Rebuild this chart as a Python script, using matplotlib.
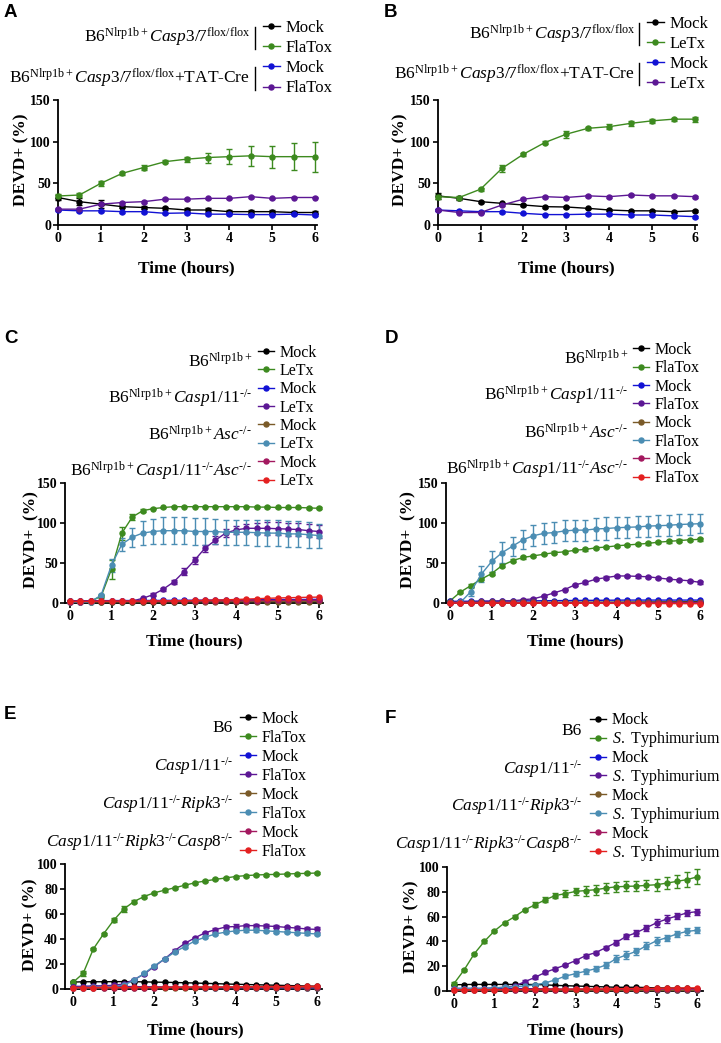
import matplotlib
matplotlib.use('Agg')
import matplotlib.pyplot as plt
from matplotlib.lines import Line2D

plt.rcParams['font.family'] = ['Liberation Serif', 'DejaVu Serif']
plt.rcParams['mathtext.fontset'] = 'custom'
plt.rcParams['mathtext.rm'] = 'Liberation Serif'
plt.rcParams['mathtext.it'] = 'Liberation Serif:italic'
plt.rcParams['mathtext.bf'] = 'Liberation Serif:bold'

# ---------------- data ----------------
t_half = [0, 0.5, 1, 1.5, 2, 2.5, 3, 3.5, 4, 4.5, 5, 5.5, 6]
t_quarter = [0, 0.25, 0.5, 0.75, 1, 1.25, 1.5, 1.75, 2, 2.25, 2.5, 2.75, 3,
             3.25, 3.5, 3.75, 4, 4.25, 4.5, 4.75, 5, 5.25, 5.5, 5.75, 6]

# Panel A
A_mock1 = [33, 28, 25, 22, 21, 20, 18, 18, 16, 16, 16, 15, 15]
A_mock1_err = [3, 4, 5, 2, 2, 2, 2, 2, 1.5, 1.5, 1.5, 1.5, 1.5]
A_tox1 = [34.8, 36, 50, 62, 69, 76, 79, 81, 82, 83, 82, 82, 82]
A_tox1_err = [2, 2, 3, 2, 3, 2, 3, 6, 9, 12, 13, 16, 18]
A_mock2 = [18, 17, 17, 16, 16, 14, 14.5, 13, 13, 12.5, 12.5, 13, 12]
A_mock2_err = [1, 1, 1, 1, 1, 1, 1, 1, 1, 1, 1, 1, 1]
A_tox2 = [19, 19, 25, 27, 28, 31, 31, 32, 32, 34, 32, 33, 33]
A_tox2_err = [1, 1, 1, 1, 1, 1, 1, 1, 1, 1, 1, 1, 1]

# Panel B
B_mock1 = [35, 32, 28, 26, 24, 22, 21.6, 20, 18, 17, 17, 16, 17]
B_mock1_err = [4, 2, 1, 1, 1, 1, 1, 1, 1, 1, 1, 1, 1]
B_tox1 = [34, 33, 43, 68, 85, 99, 109, 116, 118, 122, 125, 127, 127]
B_tox1_err = [3, 2, 2, 4, 2, 2, 4, 2, 3, 3, 2, 2, 3]
B_mock2 = [18, 17, 16, 16, 14, 12.5, 12.5, 13, 13, 12, 12, 11, 10]
B_mock2_err = [1, 1, 1, 1, 1, 1, 1, 1, 1, 1, 1, 1, 1]
B_tox2 = [18, 15, 15, 24, 31, 34, 33, 35, 34, 36, 35, 35, 34]
B_tox2_err = [1, 1, 1, 1, 1, 1, 1, 1, 1, 1, 1, 1, 1]

# Panel C (LeTx)
C_wt_mock = [1.0, 1.0, 1.0, 1.2, 1.2, 1.3, 1.3, 1.4, 1.4, 1.5, 1.5, 1.5, 1.6,
             1.6, 1.7, 1.7, 1.8, 1.8, 1.9, 1.9, 2.0, 2.0, 2.0, 2.1, 2.1]
C_wt_tox = [2, 2, 2, 8, 42, 87, 107, 115, 117.5, 119, 120, 120, 120,
            120, 120, 120, 120, 120, 119.5, 119.5, 119, 119, 119, 118.5, 118]
C_wt_tox_err = [0.5, 0.5, 0.5, 2, 12, 8, 4, 2, 1, 1, 1, 1, 1,
                1, 1, 1, 1, 1, 1, 1, 1, 1, 1, 1, 1]
C_c1_mock = [2.5, 2.5, 2.5, 2.6, 2.6, 2.7, 2.7, 2.8, 2.8, 2.9, 3.0, 3.0, 3.1,
             3.2, 3.3, 3.4, 3.5, 3.6, 3.7, 3.8, 3.9, 4.0, 4.0, 4.1, 4.2]
C_c1_tox = [2, 2, 2, 2, 2, 2, 2, 5.5, 10, 17, 26, 39, 53,
            68, 78, 87, 91, 93, 93, 93, 92.5, 92, 91.5, 90, 89]
C_c1_tox_err = [0.5, 0.5, 0.5, 0.5, 0.5, 0.5, 0.5, 1, 2, 2, 3, 4, 4,
                4, 5, 5, 5, 6, 7, 8, 8, 8, 8, 8, 8]
C_asc_mock = [0.8, 0.8, 0.8, 0.9, 0.9, 0.9, 1.0, 1.0, 1.0, 1.1, 1.1, 1.1, 1.2,
              1.2, 1.2, 1.3, 1.3, 1.3, 1.4, 1.4, 1.4, 1.5, 1.5, 1.5, 1.6]
C_asc_tox = [1, 1, 1, 9.5, 47, 73, 82, 87, 89, 90, 90, 90, 89,
             89, 89, 88, 88, 88, 87.5, 87, 87, 86, 86, 85, 84]
C_asc_tox_err = [0.5, 0.5, 0.5, 2, 8, 8, 12, 15, 16, 17, 17, 17, 17,
                 17, 16, 16, 16, 16, 16, 16, 16, 16, 16, 16, 15]
C_dko_mock = [1.5, 1.5, 1.6, 1.6, 1.7, 1.7, 1.8, 1.8, 1.9, 1.9, 2.0, 2.0, 2.1,
              2.2, 2.3, 2.4, 2.5, 2.6, 2.7, 2.8, 2.9, 3.0, 3.1, 3.2, 3.3]
C_dko_tox = [1.8, 1.8, 1.8, 1.9, 1.9, 2.0, 2.0, 2.1, 2.2, 2.3, 2.4, 2.6, 2.8,
             3.0, 3.3, 3.6, 4.0, 4.5, 5.0, 5.5, 5.9, 6.2, 6.5, 6.8, 7.0]

# Panel D (FlaTox)
D_wt_mock = [0.8, 0.8, 0.8, 0.8, 0.9, 0.9, 0.9, 0.9, 1.0, 1.0, 1.0, 1.0, 1.1,
             1.1, 1.1, 1.2, 1.2, 1.3, 1.4, 1.5, 1.6, 1.7, 1.8, 1.9, 2.0]
D_wt_tox = [3, 14, 22, 30, 37, 47, 53, 57, 59, 61, 63, 64, 66,
            67, 69, 70, 71.5, 72.5, 73.5, 74.5, 76, 77, 78, 79, 79.5]
D_wt_tox_err = [1, 1.5, 1.5, 1.5, 1.5, 1.5, 1.5, 1.5, 1.5, 1.5, 1.5, 1.5, 1.5,
                1.5, 1.5, 1.5, 1.5, 1.5, 1.5, 1.5, 1.5, 1.5, 1.5, 1.5, 1.5]
D_c1_mock = [2.5, 2.5, 2.6, 2.6, 2.7, 2.8, 2.9, 3.0, 3.1, 3.2, 3.3, 3.4, 3.5,
             3.6, 3.7, 3.8, 3.9, 4.0, 4.0, 4.0, 4.0, 4.0, 4.0, 4.0, 4.0]
D_c1_tox = [2, 2, 2, 2.5, 2.5, 3, 3, 4.5, 5.5, 9, 13, 17, 23,
            26, 30, 32, 34, 34, 33.5, 33, 31.5, 30, 29, 28, 26]
D_c1_tox_err = [0.5, 0.5, 0.5, 0.5, 0.5, 0.5, 0.5, 1, 1, 1, 1, 1, 1.5,
                1.5, 1.5, 1.5, 1.5, 1.5, 1.5, 1.5, 1.5, 1.5, 1.5, 1.5, 1.5]
D_asc_mock = [1.0, 1.0, 1.0, 1.0, 1.0, 1.1, 1.1, 1.1, 1.1, 1.2, 1.2, 1.2, 1.2,
              1.3, 1.3, 1.3, 1.3, 1.4, 1.4, 1.4, 1.4, 1.5, 1.5, 1.5, 1.5]
D_asc_tox = [0.5, 1, 14.5, 36, 52, 63, 71, 79, 84, 87, 88, 90, 91,
             91, 92.5, 93, 94, 94.5, 95, 96, 96.5, 97, 98, 98.5, 99]
D_asc_tox_err = [0.5, 0.5, 5, 10, 13, 13, 12, 12, 13, 13, 13, 13, 13,
                 13, 14, 14, 13, 13, 13, 13, 13, 13, 13, 13, 12]
D_dko_mock = [0.5, 0.5, 0.5, 0.5, 0.5, 0.5, 0.5, 0.5, 0.6, 0.6, 0.6, 0.6, 0.6,
              0.6, 0.7, 0.7, 0.7, 0.7, 0.7, 0.8, 0.8, 0.8, 0.8, 0.8, 0.8]
D_dko_tox = [0.3, 0.3, 0.3, 0.3, 0.3, 0.2, 0.2, 0.2, 0.2, 0.1, 0.1, 0.1, 0.0,
             0.0, 0.0, -0.1, -0.1, -0.2, -0.2, -0.3, -0.3, -0.4, -0.4, -0.5, -0.5]

# Panel E (FlaTox)
E_wt_mock = [5.5, 5.8, 5.8, 5.8, 5.9, 5.9, 5.8, 5.7, 5.5, 5.4, 5.2, 5.0, 4.8,
             4.5, 4.3, 4.0, 3.8, 3.6, 3.4, 3.2, 3.0, 2.8, 2.6, 2.4, 2.2]
E_wt_tox = [5.3, 12.5, 32, 44, 55, 64, 70, 74, 77, 79, 81, 83, 85,
            86.4, 87.7, 88.8, 90, 90.7, 91.2, 91.5, 91.7, 92, 92.3, 92.5, 92.8]
E_wt_tox_err = [1, 2, 1, 1, 1.5, 2.5, 1.5, 1, 1, 1, 1, 1, 1,
                0.8, 0.8, 0.8, 0.8, 0.8, 0.8, 0.8, 0.8, 0.8, 0.8, 0.8, 0.8]
E_c1_mock = [2.0, 2.0, 2.0, 2.1, 2.1, 2.0, 1.9, 1.8, 1.7, 1.6, 1.5, 1.4, 1.3,
             1.2, 1.1, 1.0, 1.0, 0.9, 0.9, 0.8, 0.8, 0.7, 0.7, 0.6, 0.6]
E_c1_tox = [2, 2, 2.5, 2.5, 3, 4, 7.5, 12, 18, 24, 30.7, 36.5, 41,
            45, 47.5, 49.6, 50, 50.7, 50.7, 50.4, 50, 49.3, 48.8, 48, 47.7]
E_c1_tox_err = [0.5, 0.5, 0.5, 0.5, 0.5, 0.5, 0.8, 0.8, 1, 1, 1, 1, 1,
                1, 1.5, 2, 2, 1.5, 1.5, 1.5, 1.5, 1.5, 1.5, 1.5, 2]
E_r3_mock = [0.8, 0.8, 0.8, 0.8, 0.8, 0.9, 0.9, 0.9, 0.9, 0.9, 1.0, 1.0, 1.0,
             1.0, 1.0, 1.0, 1.0, 1.0, 1.0, 1.0, 1.0, 1.0, 1.0, 1.0, 1.0]
E_r3_tox = [1, 1.2, 1.5, 1.8, 2, 3, 7, 12.5, 18.5, 24, 29.5, 34, 38.5,
            41.5, 44, 45.5, 46.5, 47, 47, 46.5, 46, 45.5, 45, 44.5, 44]
E_r3_tox_err = [0.5, 0.5, 0.5, 0.5, 0.5, 0.5, 0.8, 0.8, 1, 1, 1, 1, 1,
                1, 1, 1, 1, 1, 1, 1, 1, 1, 1, 1, 1]
E_c8_mock = [1.0, 1.0, 1.0, 1.1, 1.1, 1.1, 1.2, 1.2, 1.2, 1.3, 1.3, 1.3, 1.4,
             1.4, 1.4, 1.5, 1.5, 1.5, 1.6, 1.6, 1.6, 1.7, 1.7, 1.8, 1.8]
E_c8_tox = [1.2, 1.2, 1.2, 1.3, 1.3, 1.3, 1.4, 1.4, 1.4, 1.5, 1.5, 1.5, 1.6,
            1.6, 1.6, 1.7, 1.7, 1.8, 1.8, 1.9, 1.9, 2.0, 2.0, 2.1, 2.2]

# Panel F (S. Typhimurium)
F_wt_mock = [5, 5.2, 5.3, 5.3, 5.3, 5.3, 5.3, 5.3, 5.2, 5, 4.5, 4.3, 4,
             3.8, 3.5, 3.3, 3, 3, 3, 2.8, 2.5, 2.4, 2.3, 2.1, 2]
F_wt_tox = [6, 17, 30, 40, 48.5, 55, 60, 65.5, 69.5, 73.5, 77, 78.5, 80.3,
            81, 81.7, 83, 84, 84.4, 84.6, 85.2, 85.7, 87, 88.4, 89.8, 92]
F_wt_tox_err = [1, 1, 1, 1, 1, 1, 1, 1, 2, 2, 2, 3, 3,
                4, 4, 4, 4, 4, 4, 4, 5, 5, 5, 6, 6]
F_c1_mock = [2, 2, 2, 2, 2, 2, 2, 1.9, 1.8, 1.7, 1.5, 1.4, 1.3,
             1.2, 1.1, 1.0, 0.9, 0.9, 0.8, 0.8, 0.7, 0.7, 0.6, 0.6, 0.5]
F_c1_tox = [2, 2, 2, 2, 2.5, 3, 4, 7.5, 11, 15, 18, 21, 24.5,
            28.5, 31, 35, 39, 44, 47, 51, 55, 58, 60.5, 63, 64]
F_c1_tox_err = [0.5, 0.5, 0.5, 0.5, 0.5, 0.5, 0.5, 1, 1, 1, 1, 1, 1,
                1.5, 1.5, 1.5, 2, 2, 2.5, 2.5, 3, 3, 2.5, 2.5, 2.5]
F_r3_mock = [0.5, 0.5, 0.5, 0.5, 0.5, 0.5, 0.5, 0.5, 0.5, 0.5, 0.5, 0.5, 0.5,
             0.5, 0.5, 0.5, 0.5, 0.5, 0.5, 0.5, 0.5, 0.5, 0.5, 0.5, 0.5]
F_r3_tox = [2, 2, 2, 2, 2.5, 3, 3.5, 4, 5, 6.5, 9, 12, 14,
            16, 18, 21, 26, 29, 32, 36.5, 40.5, 43, 46, 48, 49]
F_r3_tox_err = [0.5, 0.5, 0.5, 0.5, 0.5, 0.5, 0.5, 0.5, 1, 1, 1, 1.5, 2,
                2, 2, 2.5, 3, 3, 3, 3, 3, 2.5, 2.5, 2.5, 2.5]
F_c8_mock = [1.0, 1.0, 1.0, 1.0, 1.1, 1.1, 1.1, 1.1, 1.2, 1.2, 1.2, 1.2, 1.3,
             1.3, 1.3, 1.3, 1.4, 1.4, 1.4, 1.4, 1.5, 1.5, 1.5, 1.5, 1.5]
F_c8_tox = [1.0, 1.0, 1.1, 1.1, 1.2, 1.2, 1.3, 1.3, 1.4, 1.4, 1.5, 1.5, 1.6,
            1.6, 1.7, 1.7, 1.8, 1.9, 2.0, 2.1, 2.2, 2.3, 2.4, 2.5, 2.5]

# ---------------- style ----------------
C_BLACK = '#000000'
C_GREEN = '#3d8a1f'
C_BLUE = '#1212d4'
C_PURPLE = '#5c1794'
C_BROWN = '#7a5a28'
C_LTBLUE = '#4b8db3'
C_MAGENTA = '#a3185f'
C_RED = '#e42020'

W, H = 721, 1043
fig = plt.figure(figsize=(W / 100, H / 100), dpi=100)


def fx(px):
    return px / W


def fy(py):
    return 1 - py / H


def panel(letter, letter_pos, spine_x, x0_px, x6_px, right_px, top_px, bottom_px,
          ymax, yticks, series, times, group_labels, group_rows, label_right,
          bar_x, leg_x, rows, leg_fs, grp_fs, hk, ylabel, ylabel_pos, xlabel_y):
    ax = fig.add_axes([fx(spine_x), fy(bottom_px), (right_px - spine_x) / W,
                       (bottom_px - top_px) / H])
    pxh = (x6_px - x0_px) / 6.0
    ax.set_xlim((spine_x - x0_px) / pxh, (right_px - x0_px) / pxh)
    ax.set_ylim(0, ymax)
    handles = []
    labels = []
    for vals, errs, col, lab in series:
        if errs is not None:
            ax.errorbar(times, vals, yerr=errs, fmt='none', ecolor=col,
                        elinewidth=1.0, capsize=2.2, capthick=1.0, clip_on=False, zorder=2)
        ln, = ax.plot(times, vals, '-o', color=col, lw=1.0, ms=3.6,
                      clip_on=False, zorder=3)
        handles.append(ln)
        labels.append(lab)
    for s in ('top', 'right'):
        ax.spines[s].set_visible(False)
    for s in ('left', 'bottom'):
        ax.spines[s].set_linewidth(1.3)
    ax.set_xticks([0, 1, 2, 3, 4, 5, 6])
    ax.set_yticks(yticks)
    ax.tick_params(direction='out', length=3.5, width=1.2, pad=1.5,
                   labelsize=10)
    for lbl in ax.get_xticklabels() + ax.get_yticklabels():
        lbl.set_fontweight('bold')

    # legend
    cy = (rows[0] + rows[-1]) / 2.0
    spacing = (rows[-1] - rows[0]) / (len(rows) - 1)
    fs_px = leg_fs * 100 / 72.0
    ls = (spacing - hk * fs_px) / fs_px
    ax.legend(handles, labels, loc='center left',
              bbox_to_anchor=(fx(leg_x), fy(cy)), bbox_transform=fig.transFigure,
              frameon=False, fontsize=leg_fs, handlelength=1.0,
              handletextpad=0.35, labelspacing=ls, borderpad=0,
              borderaxespad=0, numpoints=1)

    for i, g in enumerate(group_labels):
        r0 = rows[group_rows[i][0]]
        r1 = rows[group_rows[i][1]]
        fig.text(fx(label_right), fy((r0 + r1) / 2.0), g, ha='right',
                 va='center', fontsize=grp_fs)
        if bar_x is not None:
            fig.add_artist(Line2D([fx(bar_x), fx(bar_x)],
                                  [fy(r0 - 1), fy(r1 + 1)], color='black', lw=1.0))

    fig.text(fx(letter_pos[0]), fy(letter_pos[1]), letter, ha='left', va='top',
             fontsize=13.5, fontweight='bold', family='Liberation Sans')
    fig.text(fx(ylabel_pos[0]), fy(ylabel_pos[1]), ylabel, rotation=90,
             ha='center', va='center', fontsize=12.5, fontweight='bold')
    fig.text(fx((x0_px + x6_px) / 2.0), fy(xlabel_y), 'Time (hours)',
             ha='center', va='center', fontsize=12.5, fontweight='bold')
    return ax


HY = '\u2010'
KO = r'^{' + HY + '/' + HY + '}'
lab_A = [r'B6$^{\mathrm{Nlrp1b+}}\mathit{Casp3/7}^{\mathrm{flox/flox}}$',
         r'B6$^{\mathrm{Nlrp1b+}}\mathit{Casp3/7}^{\mathrm{flox/flox}}$+TAT-Cre']
lab_C = [r'B6$^{\mathrm{Nlrp1b+}}$',
         r'B6$^{\mathrm{Nlrp1b+}}\mathit{Casp1/11}' + KO + '$',
         r'B6$^{\mathrm{Nlrp1b+}}\mathit{Asc}' + KO + '$',
         r'B6$^{\mathrm{Nlrp1b+}}\mathit{Casp1/11}' + KO + r'\mathit{Asc}' + KO + '$']
lab_E = ['B6',
         r'$\mathit{Casp1/11}' + KO + '$',
         r'$\mathit{Casp1/11}' + KO + r'\mathit{Ripk3}' + KO + '$',
         r'$\mathit{Casp1/11}' + KO + r'\mathit{Ripk3}' + KO + r'\mathit{Casp8}' + KO + '$']
styp = r'$\mathit{S.}$ Typhimurium'

rows4_A = [27.7, 48.0, 68.3, 88.5]
rows4_B = [24.3, 44.3, 64.3, 84.3]
rows8_C = [352.7 + 18.33 * i for i in range(8)]
rows8_D = [350.0 + 18.33 * i for i in range(8)]
rows8_E = [719.0 + 18.95 * i for i in range(8)]
rows8_F = [721.7 + 18.8 * i for i in range(8)]

pairs2 = [(0, 1), (2, 3)]
pairs4 = [(0, 1), (2, 3), (4, 5), (6, 7)]

# A
panel('A', (4, 4), 58, 58, 315, 317, 100, 225, 150, [0, 50, 100, 150],
      [(A_mock1, A_mock1_err, C_BLACK, 'Mock'),
       (A_tox1, A_tox1_err, C_GREEN, 'FlaTox'),
       (A_mock2, A_mock2_err, C_BLUE, 'Mock'),
       (A_tox2, A_tox2_err, C_PURPLE, 'FlaTox')],
      t_half, lab_A, pairs2, 250, 254.5, 263, rows4_A, 12, 12.5, 0.96,
      'DEVD+ (%)', (21, 160), 268)
# B
panel('B', (384, 4), 437.7, 437.7, 695, 697, 100, 225, 150, [0, 50, 100, 150],
      [(B_mock1, B_mock1_err, C_BLACK, 'Mock'),
       (B_tox1, B_tox1_err, C_GREEN, 'LeTx'),
       (B_mock2, B_mock2_err, C_BLUE, 'Mock'),
       (B_tox2, B_tox2_err, C_PURPLE, 'LeTx')],
      t_half, lab_A, pairs2, 635, 638.5, 647, rows4_B, 12, 12.5, 0.96,
      'DEVD+ (%)', (400, 160), 268)
# C
panel('C', (4, 330), 65, 70, 319, 322.5, 482.7, 602.7, 150, [0, 50, 100, 150],
      [(C_wt_mock, None, C_BLACK, 'Mock'),
       (C_wt_tox, C_wt_tox_err, C_GREEN, 'LeTx'),
       (C_c1_mock, None, C_BLUE, 'Mock'),
       (C_c1_tox, C_c1_tox_err, C_PURPLE, 'LeTx'),
       (C_asc_mock, None, C_BROWN, 'Mock'),
       (C_asc_tox, C_asc_tox_err, C_LTBLUE, 'LeTx'),
       (C_dko_mock, None, C_MAGENTA, 'Mock'),
       (C_dko_tox, None, C_RED, 'LeTx')],
      t_quarter, lab_C, pairs4, 252, None, 258, rows8_C, 11.5, 12.4, 1.0,
      'DEVD+  (%)', (31, 540), 641.7)
# D
panel('D', (385, 330), 446, 450, 700, 703, 482.7, 603.3, 150, [0, 50, 100, 150],
      [(D_wt_mock, None, C_BLACK, 'Mock'),
       (D_wt_tox, D_wt_tox_err, C_GREEN, 'FlaTox'),
       (D_c1_mock, None, C_BLUE, 'Mock'),
       (D_c1_tox, D_c1_tox_err, C_PURPLE, 'FlaTox'),
       (D_asc_mock, None, C_BROWN, 'Mock'),
       (D_asc_tox, D_asc_tox_err, C_LTBLUE, 'FlaTox'),
       (D_dko_mock, None, C_MAGENTA, 'Mock'),
       (D_dko_tox, None, C_RED, 'FlaTox')],
      t_quarter, lab_C, pairs4, 628, None, 633, rows8_D, 11.5, 12.4, 1.0,
      'DEVD+  (%)', (408.5, 540), 641.7)
# E
panel('E', (4, 706), 65, 73, 317, 322, 864, 989, 100, [0, 20, 40, 60, 80, 100],
      [(E_wt_mock, None, C_BLACK, 'Mock'),
       (E_wt_tox, E_wt_tox_err, C_GREEN, 'FlaTox'),
       (E_c1_mock, None, C_BLUE, 'Mock'),
       (E_c1_tox, E_c1_tox_err, C_PURPLE, 'FlaTox'),
       (E_r3_mock, None, C_BROWN, 'Mock'),
       (E_r3_tox, E_r3_tox_err, C_LTBLUE, 'FlaTox'),
       (E_c8_mock, None, C_MAGENTA, 'Mock'),
       (E_c8_tox, None, C_RED, 'FlaTox')],
      t_quarter, lab_E, pairs4, 233, None, 240, rows8_E, 11.5, 12.4, 1.0,
      'DEVD+ (%)', (30, 925), 1030)
# F
panel('F', (385, 710), 447, 454, 697, 703, 867, 991, 100, [0, 20, 40, 60, 80, 100],
      [(F_wt_mock, None, C_BLACK, 'Mock'),
       (F_wt_tox, F_wt_tox_err, C_GREEN, styp),
       (F_c1_mock, None, C_BLUE, 'Mock'),
       (F_c1_tox, F_c1_tox_err, C_PURPLE, styp),
       (F_r3_mock, None, C_BROWN, 'Mock'),
       (F_r3_tox, F_r3_tox_err, C_LTBLUE, styp),
       (F_c8_mock, None, C_MAGENTA, 'Mock'),
       (F_c8_tox, None, C_RED, styp)],
      t_quarter, lab_E, pairs4, 582, None, 590, rows8_F, 11.5, 12.4, 1.12,
      'DEVD+ (%)', (411.5, 927), 1030)

fig.savefig('out.png', dpi=100)
